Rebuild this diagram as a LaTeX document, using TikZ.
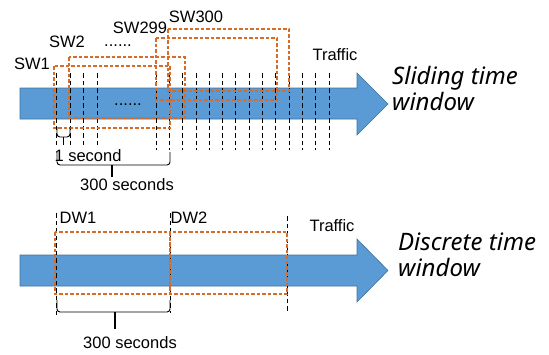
\documentclass[tikz,border=0pt]{standalone}
\usepackage{fontspec}
\setmainfont{Liberation Sans}
\newfontfamily\handfont{Noto Sans}
\begin{document}
\begin{tikzpicture}[x=1pt,y=-1pt,
  lbl/.style={inner sep=0pt,font=\fontsize{16.5}{18}\selectfont},
  hand/.style={inner sep=0pt,align=left,font=\handfont\itshape\fontsize{24}{26}\selectfont},
  arrowfill/.style={fill=arrowblue,draw=arrowedge,line width=0.6pt},
  vdash/.style={draw=black,line width=0.8pt,dash pattern=on 4.5pt off 3pt},
  win/.style={draw=winorange,line width=1.3pt,dash pattern=on 3.5pt off 2pt},
  bracepath/.style={draw=black,line width=0.9pt,rounded corners=3pt}]
\definecolor{arrowblue}{RGB}{91,155,213}
\definecolor{arrowedge}{RGB}{65,113,156}
\definecolor{winorange}{RGB}{214,108,40}
\useasboundingbox (0,0) rectangle (549,354);
% top arrow
\path[arrowfill] (20,88) -- (357,88) -- (357,73) -- (388,104) -- (357,135) -- (357,119) -- (20,119) -- cycle;
% vertical dashed lines top
\foreach \x in {56,70,83,97} \draw[vdash] (\x,73) -- (\x,147);
\foreach \x in {156,169.3,182.6,195.9,209.2,222.5,235.8,249.1,262.4,275.7,289,302.3,315.6,329} \draw[vdash] (\x,73) -- (\x,150);
% sliding windows
\draw[win] (54,66) rectangle (170,128);
\draw[win] (69,57) rectangle (185,118);
\draw[win] (156,38) rectangle (277,100);
\draw[win] (168,29) rectangle (289,91);
\node[lbl] (sw1) at (32,64) {SW1};
\node[lbl] (sw2) at (67,42) {SW2};
\node[lbl] (dots1) at (118,46) {......};
\node[lbl] (sw299) at (140,28) {SW299};
\node[lbl] (sw300) at (196,17) {SW300};
\node[lbl] (dots2) at (128,105) {......};
\node[lbl] (traffic1) at (335,55) {Traffic};
\node[hand,anchor=base west] (slide) at (392,110) {Sliding time\\window};
% small brace
\draw[bracepath] (57,127) -- (57,137) -- (70,137) -- (70,127);
\draw[black,line width=1.2pt] (63.5,137) -- (63.5,145);
\node[lbl] (onesec) at (88,156) {1 second};
% big brace
\draw[bracepath] (57,152) -- (57,165) -- (170,165) -- (170,152);
\draw[black,line width=1.5pt] (112,165) -- (112,177);
\node[lbl] (sec300a) at (127,185) {300 seconds};
% bottom arrow
\path[arrowfill] (20,255) -- (357,255) -- (357,239) -- (388,270.5) -- (357,302) -- (357,286) -- (20,286) -- cycle;
\draw[vdash] (56,213) -- (56,317);
\draw[vdash] (170,213) -- (170,313);
\draw[vdash] (287,216) -- (287,312);
\draw[win] (55,232) rectangle (170,294);
\draw[win] (170,232) rectangle (287,294);
\node[lbl] (dw1) at (78,218) {DW1};
\node[lbl] (dw2) at (189,218) {DW2};
\node[lbl] (traffic2) at (332,226) {Traffic};
\node[hand,anchor=base west] (disc) at (398,276) {Discrete time\\window};
\draw[bracepath] (57,300) -- (57,312) -- (170,312) -- (170,300);
\draw[black,line width=1.5pt] (115,312) -- (115,329);
\node[lbl] (sec300b) at (130,343) {300 seconds};
\end{tikzpicture}
\end{document}
